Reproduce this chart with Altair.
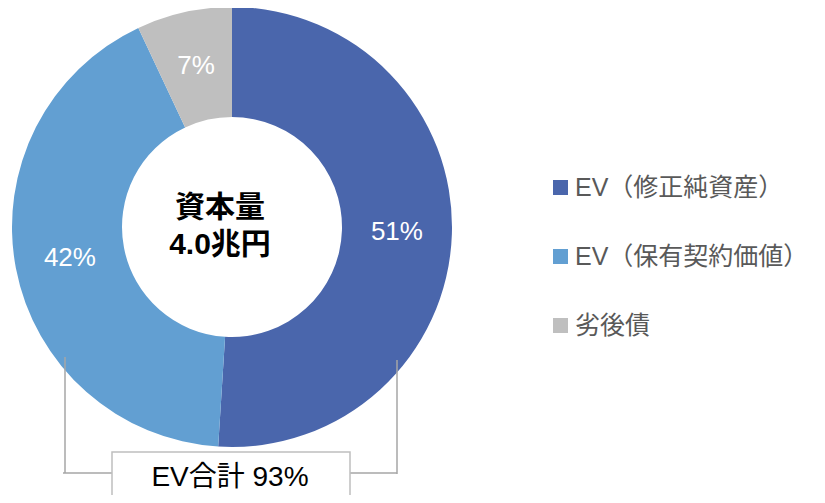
import altair as alt
import pandas as pd

categories = ["EV（修正純資産）", "EV（保有契約価値）", "劣後債"]
values = [51, 42, 7]
labels = ["51%", "42%", "7%"]
colors = ["#4A66AC", "#629FD2", "#BFBFBF"]
center_lines = ["資本量", "4.0兆円"]
bracket_text = "EV合計 93%"

FONT = "'Liberation Sans', Arial, 'Noto Sans CJK JP', sans-serif"

df = pd.DataFrame({"cat": categories, "value": values, "label": labels, "order": [0, 1, 2]})

CX, CY = 224, 219

base = alt.Chart(df)

arcs = base.mark_arc(outerRadius=220, innerRadius=110, x=CX, y=CY).encode(
    theta=alt.Theta("value:Q", stack=True),
    order=alt.Order("order:Q"),
    color=alt.Color(
        "cat:N",
        scale=alt.Scale(domain=categories, range=colors),
        sort=categories,
        legend=alt.Legend(
            title=None,
            orient="none",
            legendX=540,
            legendY=167,
            symbolType="square",
            symbolSize=225,
            symbolStrokeWidth=0,
            labelFontSize=25,
            labelColor="#595959",
            labelFont=FONT,
            labelOffset=2,
            rowPadding=43,
            padding=0,
            labelLimit=400,
        ),
    ),
)

pct = base.mark_text(radius=165, x=CX, y=CY, fontSize=26, color="white", font=FONT).encode(
    theta=alt.Theta("value:Q", stack=True),
    order=alt.Order("order:Q"),
    text="label:N",
)

center1 = alt.Chart(pd.DataFrame({"t": [center_lines[0]]})).mark_text(
    fontSize=30, fontWeight="bold", color="black", font=FONT
).encode(text="t:N", x=alt.value(CX - 12), y=alt.value(200))
center2 = alt.Chart(pd.DataFrame({"t": [center_lines[1]]})).mark_text(
    fontSize=30, fontWeight="bold", color="black", font=FONT
).encode(text="t:N", x=alt.value(CX - 12), y=alt.value(237))

one = alt.Chart(pd.DataFrame({"a": [0]}))
LINE = "#A6A6A6"
left_v = one.mark_rule(color=LINE, strokeWidth=1.5).encode(
    x=alt.value(57), y=alt.value(349), y2=alt.value(465))
left_h = one.mark_rule(color=LINE, strokeWidth=1.5).encode(
    x=alt.value(55), x2=alt.value(104), y=alt.value(465))
right_v = one.mark_rule(color=LINE, strokeWidth=1.5).encode(
    x=alt.value(389), y=alt.value(352), y2=alt.value(466))
right_h = one.mark_rule(color=LINE, strokeWidth=1.5).encode(
    x=alt.value(342), x2=alt.value(389), y=alt.value(465))
box = one.mark_rect(fill="white", stroke="#BFBFBF", strokeWidth=1.5).encode(
    x=alt.value(104), x2=alt.value(342), y=alt.value(444), y2=alt.value(493))
box_text = alt.Chart(pd.DataFrame({"t": [bracket_text]})).mark_text(
    fontSize=28, color="black", font=FONT
).encode(text="t:N", x=alt.value(222), y=alt.value(470))

chart = alt.layer(
    arcs, pct, center1, center2, left_v, left_h, right_v, right_h, box, box_text
).properties(
    width=809, height=487, padding=0,
    autosize=alt.AutoSizeParams(type="none"),
).configure_view(stroke=None)

chart.save("out.html", embed_options={"renderer": "svg", "actions": False})
